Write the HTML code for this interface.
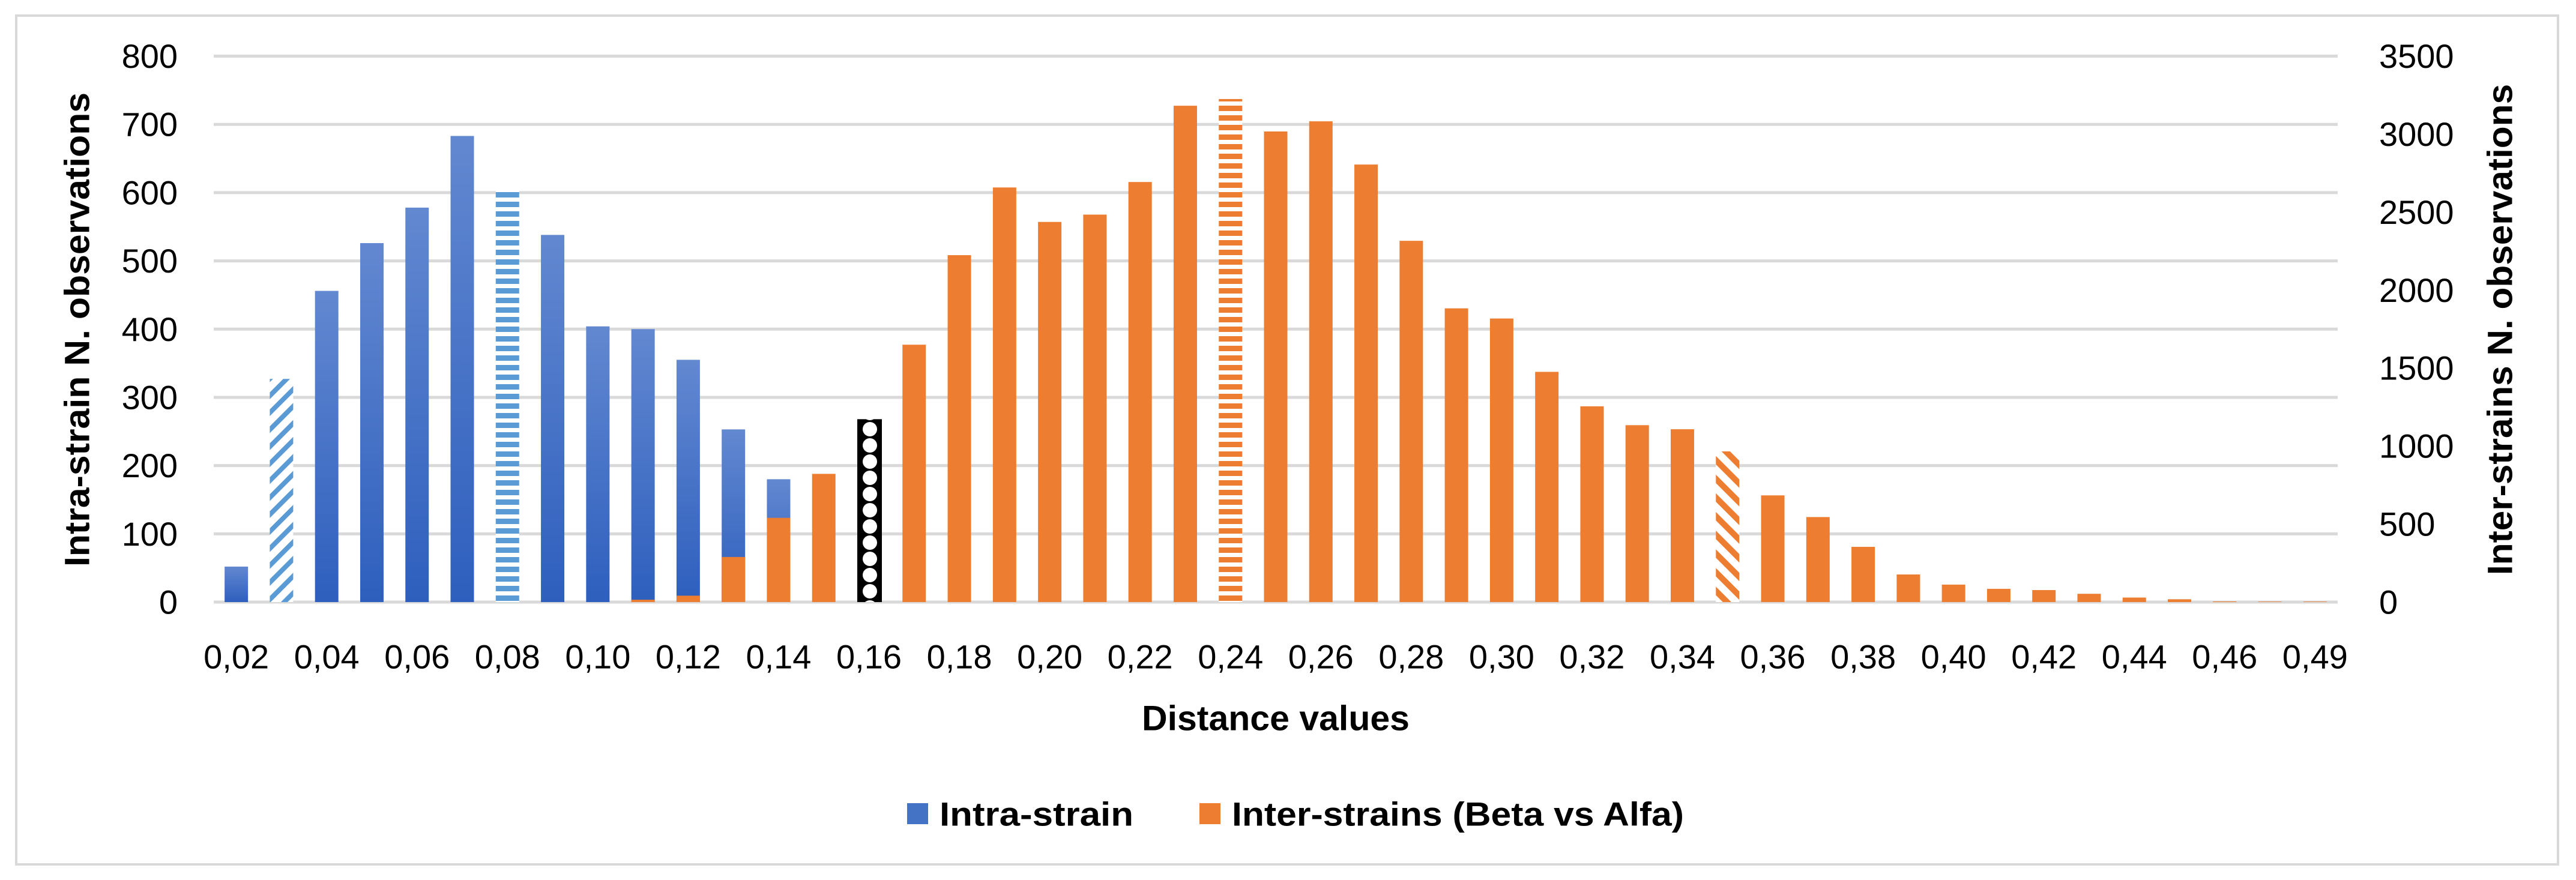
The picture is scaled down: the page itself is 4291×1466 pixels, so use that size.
<!DOCTYPE html>
<html><head><meta charset="utf-8"><style>
html,body{margin:0;padding:0;background:#fff;}
svg{display:block;}
text{font-family:"Liberation Sans",sans-serif;fill:#000;}
</style></head><body>
<svg id="c" width="4291" height="1466" viewBox="0 0 4291 1466" xmlns="http://www.w3.org/2000/svg">
<defs>
<linearGradient id="gb" x1="0" y1="0" x2="0" y2="1"><stop offset="0" stop-color="#6288d0"/><stop offset="1" stop-color="#2e5fbe"/></linearGradient>
<pattern id="pDiagB" width="20" height="20" patternUnits="userSpaceOnUse" patternTransform="rotate(45)"><rect width="20" height="20" fill="#fff"/><rect width="8" height="20" fill="#5b9bd5"/></pattern>
<pattern id="pHorB" width="20" height="16" patternUnits="userSpaceOnUse"><rect width="20" height="16" fill="#fff"/><rect width="20" height="9" fill="#5b9bd5"/></pattern>
<pattern id="pHorO" width="20" height="16" patternUnits="userSpaceOnUse"><rect width="20" height="16" fill="#fff"/><rect width="20" height="9" fill="#ed7d31"/></pattern>
<pattern id="pDiagO" width="22" height="22" patternUnits="userSpaceOnUse" patternTransform="rotate(-45)"><rect width="22" height="22" fill="#fff"/><rect width="10" height="22" fill="#ed7d31"/></pattern>
<pattern id="pDot" width="41" height="27" patternUnits="userSpaceOnUse" x="1430"><rect width="41" height="27" fill="#000"/><circle cx="19" cy="13" r="12" fill="#fff"/></pattern>
</defs>
<rect x="27" y="26" width="4234" height="1414" fill="#fff" stroke="#d9d9d9" stroke-width="4"/>
<g id="grid"></g>
<g id="bars"></g>
<g id="labels"></g>
<text x="129" y="549" font-size="58" font-weight="bold" text-anchor="middle" dominant-baseline="central" transform="rotate(-90 129 549)" textLength="790" lengthAdjust="spacingAndGlyphs">Intra-strain N. observations</text>
<text x="4165" y="549" font-size="58" font-weight="bold" text-anchor="middle" dominant-baseline="central" transform="rotate(-90 4165 549)" textLength="818" lengthAdjust="spacingAndGlyphs">Inter-strains N. observations</text>
<text x="2125" y="1197" font-size="58" font-weight="bold" text-anchor="middle" dominant-baseline="central" textLength="446" lengthAdjust="spacingAndGlyphs">Distance values</text>
<rect x="1511" y="1338" width="35" height="35" fill="#4472c4"/>
<text x="1565" y="1356" font-size="56" font-weight="bold" dominant-baseline="central" textLength="323" lengthAdjust="spacingAndGlyphs">Intra-strain</text>
<rect x="1998" y="1338" width="35" height="35" fill="#ed7d31"/>
<text x="2052" y="1356" font-size="56" font-weight="bold" dominant-baseline="central" textLength="753" lengthAdjust="spacingAndGlyphs">Inter-strains (Beta vs Alfa)</text>
</svg>
<script>
var NS="http://www.w3.org/2000/svg";
function el(t,a,p,txt){var e=document.createElementNS(NS,t);for(var k in a)e.setAttribute(k,a[k]);if(txt!==undefined)e.textContent=txt;document.getElementById(p).appendChild(e);return e;}
var X0=356,X1=3894,Y0=1003,YT=93.5,N=47,CW=(X1-X0)/N,BW=39;
var kL=(Y0-YT)/800,kR=(Y0-YT)/3500;
for(var i=0;i<=8;i++){var y=Y0-i*100*kL;
 el("line",{x1:X0,x2:X1,y1:y,y2:y,stroke:"#d9d9d9","stroke-width":5},"grid");
 el("text",{x:296,y:y,"font-size":56,"text-anchor":"end","dominant-baseline":"central"},"labels",String(i*100));}
for(var j=0;j<=7;j++){var y=Y0-j*500*kR;
 el("text",{x:3963,y:y,"font-size":56,"dominant-baseline":"central"},"labels",String(j*500));}
for(var i=0;i<N;i+=2){var cx=X0+CW*(i+0.5);var v=i==46?"0,49":"0,"+("0"+(i+2)).slice(-2);
 el("text",{x:cx,y:1094,"font-size":56,"text-anchor":"middle","dominant-baseline":"central"},"labels",v);}
var blue={0:52,1:327,2:456,3:526,4:578,5:683,6:606,7:538,8:404,9:400,10:355,11:253,12:180};
var org={9:15,10:41,11:289,12:540,13:822,15:1650,16:2224,17:2658,18:2437,19:2484,20:2693,21:3182,22:3225,23:3017,24:3082,25:2805,26:2316,27:1883,28:1818,29:1476,30:1255,31:1134,32:1108,33:966,34:684,35:545,36:354,37:177,38:112,39:85,40:77,41:53,42:29,43:18,44:4,45:3,46:3};
var bfill={1:"url(#pDiagB)",6:"url(#pHorB)"};
var ofill={22:"url(#pHorO)",33:"url(#pDiagO)"};
for(var i in blue){var cx=X0+CW*(+i+0.5),h=blue[i]*kL;
 el("rect",{x:cx-BW/2,y:Y0-h,width:BW,height:h,fill:bfill[i]||"url(#gb)"},"bars");}
for(var i in org){var cx=X0+CW*(+i+0.5),h=org[i]*kR;
 el("rect",{x:cx-BW/2,y:Y0-h,width:BW,height:h,fill:ofill[i]||"#ed7d31"},"bars");}
(function(){var cx=X0+CW*14.5,h=268*kL;
 el("rect",{x:cx-BW/2,y:Y0-h,width:BW+2,height:h,fill:"url(#pDot)"},"bars");})();
</script>
</body></html>
